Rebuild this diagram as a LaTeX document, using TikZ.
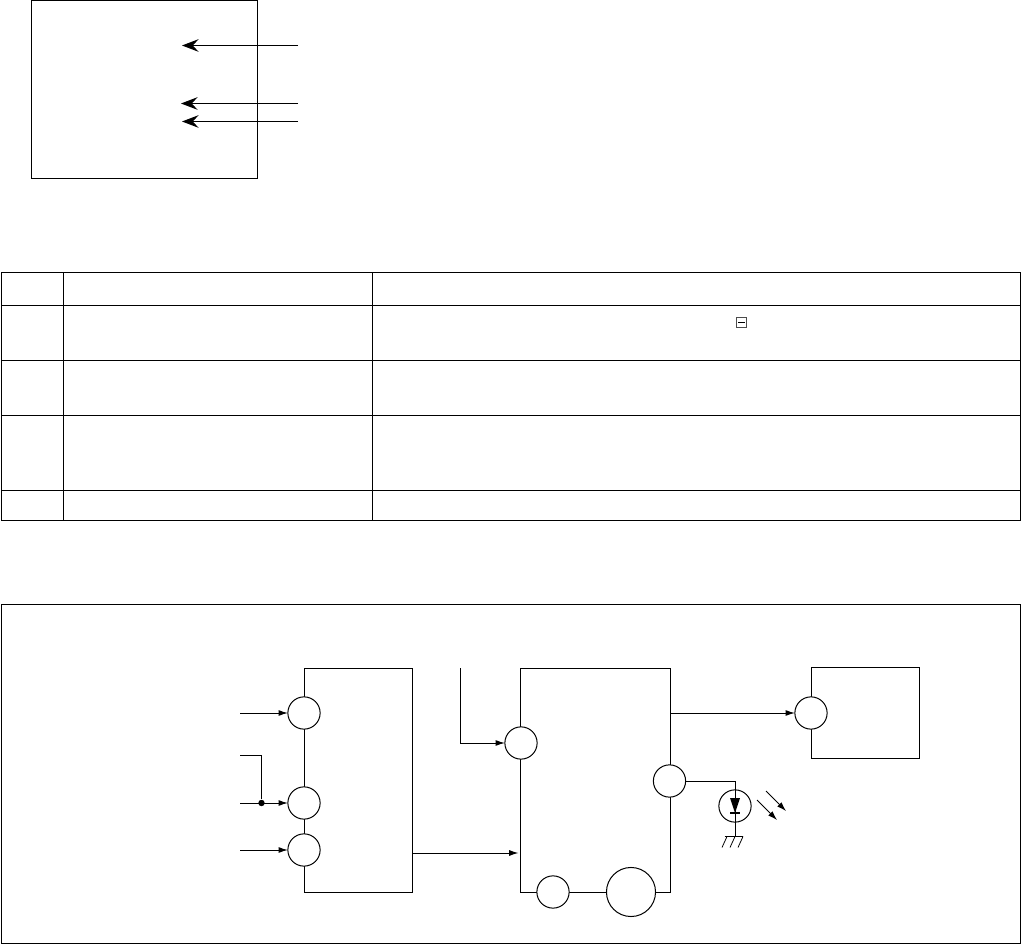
\documentclass[tikz,border=0pt]{standalone}
\usetikzlibrary{arrows.meta}
\tikzset{
  every picture/.style={line width=0.75pt},
  boxn/.style={draw,inner sep=0pt,outer sep=0pt,rectangle},
  port/.style={draw,circle,fill=white,inner sep=0pt,outer sep=0pt,minimum size=24.2pt},
  bigport/.style={port,minimum size=36.8pt},
  sarrow/.style={-{Latex[length=7pt,width=4.5pt]}},
  bigarrow/.style={-{Stealth[length=12.5pt,width=9.5pt,inset=4.5pt]}},
  thin line/.style={line width=0.6pt},
}
\begin{document}
\begin{tikzpicture}[x=0.75pt,y=-0.75pt]
\useasboundingbox (0,0) rectangle (1021,944);
% top block
\node[boxn,minimum width=169.5pt,minimum height=133.5pt] (topbox) at (144.5,89.5) {};
\coordinate (ta1) at (298,45.5);  \coordinate (tb1) at (182,45.5);
\coordinate (ta2) at (298,103.5); \coordinate (tb2) at (181,103.5);
\coordinate (ta3) at (298,121.5); \coordinate (tb3) at (182,121.5);
\draw[bigarrow] (ta1) -- (tb1);
\draw[bigarrow] (ta2) -- (tb2);
\draw[bigarrow] (ta3) -- (tb3);
% table
\node[boxn,minimum width=764.25pt,minimum height=186pt] (tbl) at (510.5,396.5) {};
\foreach \yy in {305.5,360.5,415.5,490.5} \draw (1,\yy) -- (1020,\yy);
\foreach \xx in {63,372} \draw (\xx,272.5) -- (\xx,520.5);
\node[draw=black!70,line width=0.6pt,inner sep=0pt,outer sep=0pt,minimum size=8pt] (minusbox) at (741.5,322.5) {};
\draw (738,322.5) -- (745,322.5);
% lower frame
\node[boxn,minimum width=764.25pt,minimum height=254.25pt] (frame) at (510.5,773.5) {};
% block 1
\node[boxn,minimum width=81pt,minimum height=168pt] (b1) at (358,780) {};
\node[port] (p1) at (304,713) {};
\node[port] (p2) at (304,803) {};
\node[port] (p3) at (304,850) {};
\coordinate (i1) at (240,713);
\coordinate (i2) at (240,803);
\coordinate (i3) at (240,850);
\coordinate (i4) at (240,755);
\coordinate (j4) at (261.5,755);
\draw[sarrow] (i1) -- (p1);
\draw[sarrow] (i2) -- (p2);
\draw[sarrow] (i3) -- (p3);
\node[circle,fill=black,inner sep=0pt,minimum size=4.8pt] (dot) at (261.5,803) {};
\draw (i4) -- (j4) -- (dot);
% block 2
\node[boxn,minimum width=112.5pt,minimum height=168pt] (b2) at (595.5,780) {};
\node[port] (p4) at (521,743) {};
\node[port] (p5) at (669.5,781) {};
\node[port] (p6) at (553,892) {};
\node[bigport] (p7) at (631,892) {};
\coordinate (i5) at (460,668);
\coordinate (k5) at (460,743);
\draw[sarrow] (i5) -- (k5) -- (p4);
\coordinate (o1) at (412.5,853);
\coordinate (o1e) at (518.5,853);
\draw[sarrow] (o1) -- (o1e);
% block 3
\node[boxn,minimum width=81pt,minimum height=68.25pt] (b3) at (865,712.5) {};
\node[port] (p8) at (811,713) {};
\coordinate (o2) at (670,713);
\draw[sarrow] (o2) -- (p8);
% LED
\node[port] (led) at (735,806) {};
\coordinate (k6) at (735,781);
\coordinate (gnd) at (735,836.5);
\draw (p5) -- (k6) -- (led.north);
\draw (k6) -- (gnd);
\coordinate (dtop) at (735,798);
\coordinate (dbot) at (735,813);
\fill (730,798) -- (740,798) -- (735,813) -- cycle;
\draw[line width=1.1pt] (730,813) -- (740,813);
\draw[thin line] (724.5,836.5) -- (743,836.5);
\draw[thin line] (727,836.5) -- (722,847.5);
\draw[thin line] (735,836.5) -- (730,847.5);
\draw[thin line] (743,836.5) -- (738,847.5);
\coordinate (r1a) at (766,791); \coordinate (r1b) at (786,811);
\coordinate (r2a) at (757,800); \coordinate (r2b) at (777,820);
\draw[thin line,sarrow] (r1a) -- (r1b);
\draw[thin line,sarrow] (r2a) -- (r2b);
\end{tikzpicture}
\end{document}
